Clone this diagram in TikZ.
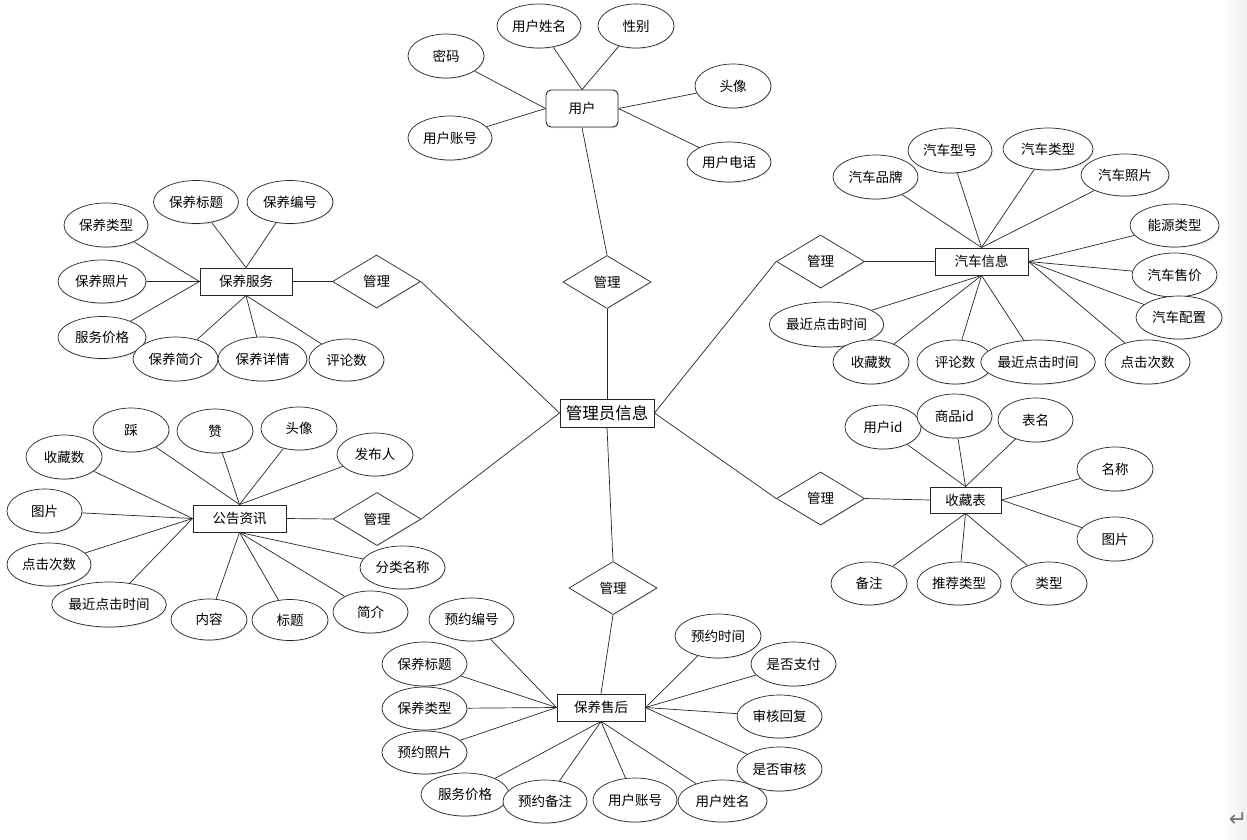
\documentclass[tikz,border=0pt]{standalone}
\usepackage{fontspec}
\setmainfont{Noto Sans CJK SC}
\newfontfamily\symfont{DejaVu Sans}
\usetikzlibrary{shapes.geometric,shadows}
\pgfdeclarelayer{bg}
\pgfsetlayers{bg,main}
\begin{document}
\begin{tikzpicture}[x=1pt,y=-1pt,
  font=\fontsize{13.5}{15}\selectfont,
  shd/.style={drop shadow={shadow xshift=0.8pt,shadow yshift=-1pt,fill={rgb,255:red,170;green,195;blue,230},opacity=0.45}},
  a/.style 2 args={ellipse,draw=black!85,line width=0.7pt,fill=white,shd,minimum width=#1pt,minimum height=#2pt,inner sep=0pt},
  ent/.style 2 args={rectangle,draw=black!85,line width=0.9pt,fill=white,shd,minimum width=#1pt,minimum height=#2pt,inner sep=0pt},
  rel/.style={diamond,draw=black!85,line width=0.7pt,fill=white,shd,minimum width=88pt,minimum height=53pt,aspect=1.66,inner sep=0pt},
  link/.style={draw=black!85,line width=0.7pt}]
\useasboundingbox (0,0) rectangle (1247,839);
\fill[left color=white,right color=black!6] (1222,0) rectangle (1247,839);

% ---------- center ----------
\node[ent={94}{28},font=\fontsize{16.5}{18}\selectfont] (admin) at (607,413) {管理员信息};

% ---------- user ----------
\node[ent={72}{37},rounded corners=5pt] (user) at (582,108.5) {用户};
\node[a={84}{44}] (u1) at (539,26) {用户姓名};
\node[a={76}{44}] (u2) at (636,26) {性别};
\node[a={76}{44}] (u3) at (446,56) {密码};
\node[a={76}{44}] (u4) at (733,86) {头像};
\node[a={84}{44}] (u5) at (450,138) {用户账号};
\node[a={84}{40}] (u6) at (729,162) {用户电话};
\node[rel] (r1) at (607,282) {管理};

% ---------- 保养服务 ----------
\node[ent={92}{27}] (bys) at (246,281.5) {保养服务};
\node[rel] (r2) at (376.5,281.5) {管理};
\node[a={84}{44}] (b1) at (106,225) {保养类型};
\node[a={85}{43}] (b2) at (196,202) {保养标题};
\node[a={86}{43}] (b3) at (290,202) {保养编号};
\node[a={88}{43}] (b4) at (102,281.5) {保养照片};
\node[a={88}{42}] (b5) at (102,337.5) {服务价格};
\node[a={85}{44}] (b6) at (175.5,359) {保养简介};
\node[a={89}{44}] (b7) at (262.5,359) {保养详情};
\node[a={75}{42}] (b8) at (346.5,360) {评论数};

% ---------- 汽车信息 ----------
\node[ent={93}{27}] (qc) at (981.5,261.5) {汽车信息};
\node[rel] (r3) at (820.5,261.5) {管理};
\node[a={85}{44}] (q1) at (875.5,177) {汽车品牌};
\node[a={84}{45}] (q2) at (950,150.5) {汽车型号};
\node[a={90}{42}] (q3) at (1048,149) {汽车类型};
\node[a={88}{42}] (q4) at (1125,175) {汽车照片};
\node[a={89}{43}] (q5) at (1174.5,225.5) {能源类型};
\node[a={85}{44}] (q6) at (1174.5,275) {汽车售价};
\node[a={86}{43}] (q7) at (1179,317.5) {汽车配置};
\node[a={85}{44}] (q8) at (1147.5,362) {点击次数};
\node[a={113}{45}] (q12) at (826.5,324.5) {最近点击时间};
\node[a={76}{44}] (q11) at (871,362) {收藏数};
\node[a={76}{44}] (q10) at (955,362) {评论数};
\node[a={112}{44}] (q9) at (1038,362) {最近点击时间};

% ---------- 收藏表 ----------
\node[ent={71}{26}] (sc) at (965.5,500) {收藏表};
\node[rel] (r4) at (820.5,498.5) {管理};
\node[a={76}{44}] (s1) at (883,427) {用户id};
\node[a={75}{44}] (s2) at (954.5,416) {商品id};
\node[a={75}{44}] (s3) at (1035.5,420) {表名};
\node[a={76}{44}] (s4) at (1115,469) {名称};
\node[a={76}{44}] (s5) at (1115,539) {图片};
\node[a={76}{43}] (s6) at (869,583.5) {备注};
\node[a={84}{43}] (s7) at (959,583.5) {推荐类型};
\node[a={76}{43}] (s8) at (1049,583.5) {类型};

% ---------- 公告资讯 ----------
\node[ent={93}{27}] (gg) at (239.5,518.5) {公告资讯};
\node[rel] (r5) at (377,519) {管理};
\node[a={76}{44}] (g1) at (64,457) {收藏数};
\node[a={76}{44}] (g2) at (131,430) {踩};
\node[a={76}{44}] (g3) at (215,431) {赞};
\node[a={76}{43}] (g4) at (299,428.5) {头像};
\node[a={76}{43}] (g5) at (375,454.5) {发布人};
\node[a={75}{44}] (g6) at (44.5,511) {图片};
\node[a={84}{43}] (g7) at (49,564.5) {点击次数};
\node[a={114}{45}] (g8) at (109,604.5) {最近点击时间};
\node[a={76}{41}] (g9) at (209,619.5) {内容};
\node[a={76}{41}] (g10) at (290,620) {标题};
\node[a={75}{42}] (g11) at (370.5,612) {简介};
\node[a={85}{43}] (g12) at (402.5,567.5) {分类名称};

% ---------- 保养售后 ----------
\node[ent={88}{27}] (sh) at (601,707.5) {保养售后};
\node[rel] (r6) at (613,588) {管理};
\node[a={85}{43}] (h1) at (471.5,619.5) {预约编号};
\node[a={85}{44}] (h2) at (424.5,664) {保养标题};
\node[a={85}{43}] (h3) at (424.5,708.5) {保养类型};
\node[a={85}{43}] (h4) at (424.5,752.5) {预约照片};
\node[a={88}{43}] (h5) at (465,794.5) {服务价格};
\node[a={84}{43}] (h6) at (545,801.5) {预约备注};
\node[a={84}{44}] (h7) at (635,800) {用户账号};
\node[a={89}{42}] (h8) at (722.5,801) {用户姓名};
\node[a={86}{44}] (h9) at (718,636) {预约时间};
\node[a={85}{44}] (h10) at (793.5,664) {是否支付};
\node[a={85}{43}] (h11) at (779.5,716.5) {审核回复};
\node[a={85}{44}] (h12) at (779.5,769) {是否审核};

\node[text=black!55,font=\symfont\fontsize{22}{22}\selectfont,inner sep=0pt] (ret) at (1238,820) {↵};

\begin{pgfonlayer}{bg}
% user
\draw[link] (u1) -- (user.north);
\draw[link] (u2) -- (user.north);
\draw[link] (u3) -- (user.west);
\draw[link] (u5) -- (user.west);
\draw[link] (u4) -- (user.east);
\draw[link] (u6) -- (user.east);
\draw[link] (user.south) -- (r1.north);
\draw[link] (r1.south) -- (admin.north);
% 保养服务
\draw[link] (bys.east) -- (r2.west);
\draw[link] (r2.east) -- (admin.west);
\draw[link] (b1) -- (bys.west);
\draw[link] (b4) -- (bys.west);
\draw[link] (b5) -- (bys.west);
\draw[link] (b2) -- (bys.north);
\draw[link] (b3) -- (bys.north);
\draw[link] (b6) -- (bys.south);
\draw[link] (b7) -- (bys.south);
\draw[link] (b8) -- (bys.south);
% 汽车信息
\draw[link] (admin.east) -- (r3.west);
\draw[link] (r3.east) -- (qc.west);
\draw[link] (q1) -- (qc.north);
\draw[link] (q2) -- (qc.north);
\draw[link] (q3) -- (qc.north);
\draw[link] (q4) -- (qc.north);
\draw[link] (q5) -- (qc.east);
\draw[link] (q6) -- (qc.east);
\draw[link] (q7) -- (qc.east);
\draw[link] (q8) -- (qc.east);
\draw[link] (q9) -- (qc.south);
\draw[link] (q10) -- (qc.south);
\draw[link] (q11) -- (qc.south);
\draw[link] (q12) -- (qc.south);
% 收藏表
\draw[link] (admin.east) -- (r4.west);
\draw[link] (r4.east) -- (sc.west);
\draw[link] (s1) -- (sc.north);
\draw[link] (s2) -- (sc.north);
\draw[link] (s3) -- (sc.north);
\draw[link] (s4) -- (sc.east);
\draw[link] (s5) -- (sc.east);
\draw[link] (s6) -- (sc.south);
\draw[link] (s7) -- (sc.south);
\draw[link] (s8) -- (sc.south);
% 公告资讯
\draw[link] (gg.east) -- (r5.west);
\draw[link] (r5.east) -- (admin.west);
\draw[link] (g1) -- (gg.west);
\draw[link] (g6) -- (gg.west);
\draw[link] (g7) -- (gg.west);
\draw[link] (g8) -- (gg.west);
\draw[link] (g2) -- (gg.north);
\draw[link] (g3) -- (gg.north);
\draw[link] (g4) -- (gg.north);
\draw[link] (g5) -- (gg.north);
\draw[link] (g9) -- (gg.south);
\draw[link] (g10) -- (gg.south);
\draw[link] (g11) -- (gg.south);
\draw[link] (g12) -- (gg.south);
% 保养售后
\draw[link] (admin.south) -- (r6.north);
\draw[link] (r6.south) -- (sh.north);
\draw[link] (h1) -- (sh.west);
\draw[link] (h2) -- (sh.west);
\draw[link] (h3) -- (sh.west);
\draw[link] (h4) -- (sh.west);
\draw[link] (h5) -- (sh.south);
\draw[link] (h6) -- (sh.south);
\draw[link] (h7) -- (sh.south);
\draw[link] (h8) -- (sh.south);
\draw[link] (h9) -- (sh.east);
\draw[link] (h10) -- (sh.east);
\draw[link] (h11) -- (sh.east);
\draw[link] (h12) -- (sh.east);
\end{pgfonlayer}
\end{tikzpicture}
\end{document}
